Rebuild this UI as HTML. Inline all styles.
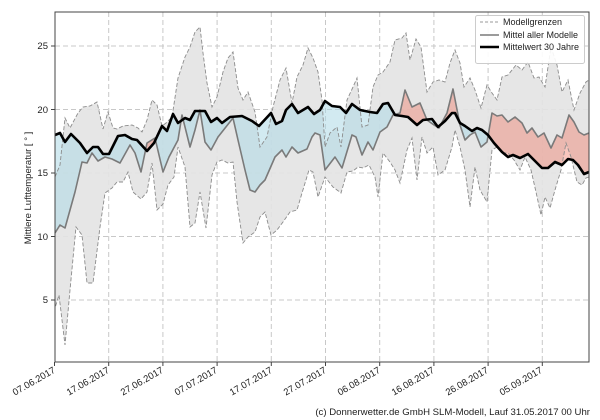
<!DOCTYPE html>
<html><head><meta charset="utf-8"><style>
html,body{margin:0;padding:0;background:#fff;}
svg{display:block;font-family:"Liberation Sans","DejaVu Sans",sans-serif;}
</style></head><body>
<svg width="600" height="420" viewBox="0 0 600 420" xmlns="http://www.w3.org/2000/svg">
<defs>
<clipPath id="below"><polygon points="55,135 60,133 65,142 71,134 80,143 87,153 93,147 98,147 103,154 109,154 118,136 125,135 132,139 137,140 147,151 154,143 162,126 167,131 173,114 178,123 185,118 190,120 195,111 205,111 211,122 217,118 222,123 230,117 242,116 252,121 259,126 271,113 276,124 282,121 286,110 292,104 298,113 308,107 314,114 320,110 325,101 332,106 340,107 346,113 352,104 360,110 370,112 377,113 383,104 388,103 395,115 402,116 408,117 417,125 423,120 432,119 438,127 445,121 452,113 455,113 460,123 465,126 472,131 477,128 482,130 488,135 494,143 502,152 508,157 513,155 520,158 528,154 536,162 542,168 548,168 555,162 562,165 568,159 573,160 578,165 584,174 589,172 589,362 55,362"/></clipPath>
<clipPath id="above"><polygon points="55,135 60,133 65,142 71,134 80,143 87,153 93,147 98,147 103,154 109,154 118,136 125,135 132,139 137,140 147,151 154,143 162,126 167,131 173,114 178,123 185,118 190,120 195,111 205,111 211,122 217,118 222,123 230,117 242,116 252,121 259,126 271,113 276,124 282,121 286,110 292,104 298,113 308,107 314,114 320,110 325,101 332,106 340,107 346,113 352,104 360,110 370,112 377,113 383,104 388,103 395,115 402,116 408,117 417,125 423,120 432,119 438,127 445,121 452,113 455,113 460,123 465,126 472,131 477,128 482,130 488,135 494,143 502,152 508,157 513,155 520,158 528,154 536,162 542,168 548,168 555,162 562,165 568,159 573,160 578,165 584,174 589,172 589,12 55,12"/></clipPath>
</defs>
<rect x="55" y="12" width="534" height="350" fill="#fff"/>
<g stroke="#c8c8c8" stroke-width="1" stroke-dasharray="5,3">
<line x1="55" x2="589" y1="300" y2="300"/><line x1="55" x2="589" y1="236.5" y2="236.5"/><line x1="55" x2="589" y1="173" y2="173"/><line x1="55" x2="589" y1="109.5" y2="109.5"/><line x1="55" x2="589" y1="46" y2="46"/>
<line x1="108.7" x2="108.7" y1="12" y2="362"/><line x1="162.9" x2="162.9" y1="12" y2="362"/><line x1="217.1" x2="217.1" y1="12" y2="362"/><line x1="271.3" x2="271.3" y1="12" y2="362"/><line x1="325.5" x2="325.5" y1="12" y2="362"/><line x1="379.7" x2="379.7" y1="12" y2="362"/><line x1="433.9" x2="433.9" y1="12" y2="362"/><line x1="488.1" x2="488.1" y1="12" y2="362"/><line x1="542.3" x2="542.3" y1="12" y2="362"/>
</g>
<polygon fill="#e3e3e3" fill-opacity="0.9" stroke="none" points="55,177 60,165 65,118 70,128 78,113 83,107 90,106 97,102 103,129 108,112 113,128 117,129 123,126 132,125 138,128 142,132 147,120 152,100 157,105 162,126 166,123 172,117 178,78 185,57 190,47 195,32 200,27 203,53 207,83 212,107 217,97 223,72 228,58 233,52 238,88 243,100 248,92 255,112 260,147 267,137 273,107 280,80 286,68 292,103 297,77 303,65 308,48 313,58 318,72 322,100 325,147 330,133 337,127 341,147 347,100 353,87 357,78 362,127 368,125 373,87 378,75 383,72 390,62 395,40 402,38 406,33 410,60 416,39 421,47 427,92 433,82 439,80 445,82 450,63 455,50 460,63 464,87 470,78 475,90 481,108 487,85 492,93 497,100 502,77 508,75 516,65 522,70 528,62 534,78 539,77 545,87 551,47 557,65 562,92 568,80 574,110 580,93 586,82 589,80 589,177 586,178 582,185 577,182 571,157 566,143 561,170 555,190 550,208 545,197 541,215 536,192 531,170 525,157 520,170 514,160 508,153 502,153 497,147 492,150 487,202 480,190 475,167 470,207 465,170 460,147 455,130 452,147 445,170 438,175 433,147 427,153 422,137 417,180 412,138 407,150 400,183 395,170 390,162 383,153 378,197 375,177 369,165 363,168 358,167 353,171 347,172 341,193 333,187 325,177 318,197 313,172 309,170 302,193 297,210 290,212 283,222 277,230 271,235 265,212 260,217 255,232 248,237 243,243 237,202 233,162 228,163 222,160 217,162 212,175 206,228 200,192 195,223 190,227 185,167 178,147 174,177 168,185 163,204 157,210 152,163 147,192 141,199 133,192 128,172 123,182 117,182 112,188 105,193 100,227 93,283 87,283 82,235 76,227 70,290 65,345 59,295 55,308"/>
<g>
<polygon clip-path="url(#below)" fill="rgb(173,216,230)" fill-opacity="0.55" points="55,233 60,225 65,228 75,192 82,162 87,163 92,153 98,161 105,157 112,159 120,163 130,145 135,153 141,172 147,143 155,138 163,172 169,157 178,140 182,115 190,147 195,130 200,110 205,142 211,150 218,137 233,118 238,140 245,170 250,190 255,192 260,185 265,180 275,157 282,150 286,157 292,147 298,153 307,149 312,137 315,133 320,135 325,170 335,157 342,168 352,135 356,137 362,155 368,142 373,150 380,132 387,127 393,115 400,113 405,90 412,107 420,103 427,120 434,125 439,128 447,113 453,89 460,125 465,140 470,135 475,132 481,147 487,142 492,113 497,116 502,115 508,122 515,117 522,123 527,133 532,128 538,137 544,133 551,148 557,135 562,138 569,115 574,122 579,132 584,135 589,133 589,172 584,174 578,165 573,160 568,159 562,165 555,162 548,168 542,168 536,162 528,154 520,158 513,155 508,157 502,152 494,143 488,135 482,130 477,128 472,131 465,126 460,123 455,113 452,113 445,121 438,127 432,119 423,120 417,125 408,117 402,116 395,115 388,103 383,104 377,113 370,112 360,110 352,104 346,113 340,107 332,106 325,101 320,110 314,114 308,107 298,113 292,104 286,110 282,121 276,124 271,113 259,126 252,121 242,116 230,117 222,123 217,118 211,122 205,111 195,111 190,120 185,118 178,123 173,114 167,131 162,126 154,143 147,151 137,140 132,139 125,135 118,136 109,154 103,154 98,147 93,147 87,153 80,143 71,134 65,142 60,133 55,135"/>
<polygon clip-path="url(#above)" fill="rgb(240,128,110)" fill-opacity="0.45" points="55,233 60,225 65,228 75,192 82,162 87,163 92,153 98,161 105,157 112,159 120,163 130,145 135,153 141,172 147,143 155,138 163,172 169,157 178,140 182,115 190,147 195,130 200,110 205,142 211,150 218,137 233,118 238,140 245,170 250,190 255,192 260,185 265,180 275,157 282,150 286,157 292,147 298,153 307,149 312,137 315,133 320,135 325,170 335,157 342,168 352,135 356,137 362,155 368,142 373,150 380,132 387,127 393,115 400,113 405,90 412,107 420,103 427,120 434,125 439,128 447,113 453,89 460,125 465,140 470,135 475,132 481,147 487,142 492,113 497,116 502,115 508,122 515,117 522,123 527,133 532,128 538,137 544,133 551,148 557,135 562,138 569,115 574,122 579,132 584,135 589,133 589,172 584,174 578,165 573,160 568,159 562,165 555,162 548,168 542,168 536,162 528,154 520,158 513,155 508,157 502,152 494,143 488,135 482,130 477,128 472,131 465,126 460,123 455,113 452,113 445,121 438,127 432,119 423,120 417,125 408,117 402,116 395,115 388,103 383,104 377,113 370,112 360,110 352,104 346,113 340,107 332,106 325,101 320,110 314,114 308,107 298,113 292,104 286,110 282,121 276,124 271,113 259,126 252,121 242,116 230,117 222,123 217,118 211,122 205,111 195,111 190,120 185,118 178,123 173,114 167,131 162,126 154,143 147,151 137,140 132,139 125,135 118,136 109,154 103,154 98,147 93,147 87,153 80,143 71,134 65,142 60,133 55,135"/>
</g>
<g fill="none" stroke="#8c8c8c" stroke-width="0.9" stroke-dasharray="4,2">
<polyline points="55,177 60,165 65,118 70,128 78,113 83,107 90,106 97,102 103,129 108,112 113,128 117,129 123,126 132,125 138,128 142,132 147,120 152,100 157,105 162,126 166,123 172,117 178,78 185,57 190,47 195,32 200,27 203,53 207,83 212,107 217,97 223,72 228,58 233,52 238,88 243,100 248,92 255,112 260,147 267,137 273,107 280,80 286,68 292,103 297,77 303,65 308,48 313,58 318,72 322,100 325,147 330,133 337,127 341,147 347,100 353,87 357,78 362,127 368,125 373,87 378,75 383,72 390,62 395,40 402,38 406,33 410,60 416,39 421,47 427,92 433,82 439,80 445,82 450,63 455,50 460,63 464,87 470,78 475,90 481,108 487,85 492,93 497,100 502,77 508,75 516,65 522,70 528,62 534,78 539,77 545,87 551,47 557,65 562,92 568,80 574,110 580,93 586,82 589,80"/>
<polyline points="589,177 586,178 582,185 577,182 571,157 566,143 561,170 555,190 550,208 545,197 541,215 536,192 531,170 525,157 520,170 514,160 508,153 502,153 497,147 492,150 487,202 480,190 475,167 470,207 465,170 460,147 455,130 452,147 445,170 438,175 433,147 427,153 422,137 417,180 412,138 407,150 400,183 395,170 390,162 383,153 378,197 375,177 369,165 363,168 358,167 353,171 347,172 341,193 333,187 325,177 318,197 313,172 309,170 302,193 297,210 290,212 283,222 277,230 271,235 265,212 260,217 255,232 248,237 243,243 237,202 233,162 228,163 222,160 217,162 212,175 206,228 200,192 195,223 190,227 185,167 178,147 174,177 168,185 163,204 157,210 152,163 147,192 141,199 133,192 128,172 123,182 117,182 112,188 105,193 100,227 93,283 87,283 82,235 76,227 70,290 65,345 59,295 55,308"/>
</g>
<polyline fill="none" stroke="#7a7a7a" stroke-width="1.6" stroke-linejoin="round" points="55,233 60,225 65,228 75,192 82,162 87,163 92,153 98,161 105,157 112,159 120,163 130,145 135,153 141,172 147,143 155,138 163,172 169,157 178,140 182,115 190,147 195,130 200,110 205,142 211,150 218,137 233,118 238,140 245,170 250,190 255,192 260,185 265,180 275,157 282,150 286,157 292,147 298,153 307,149 312,137 315,133 320,135 325,170 335,157 342,168 352,135 356,137 362,155 368,142 373,150 380,132 387,127 393,115 400,113 405,90 412,107 420,103 427,120 434,125 439,128 447,113 453,89 460,125 465,140 470,135 475,132 481,147 487,142 492,113 497,116 502,115 508,122 515,117 522,123 527,133 532,128 538,137 544,133 551,148 557,135 562,138 569,115 574,122 579,132 584,135 589,133"/>
<polyline fill="none" stroke="#000" stroke-width="2.6" stroke-linejoin="round" points="55,135 60,133 65,142 71,134 80,143 87,153 93,147 98,147 103,154 109,154 118,136 125,135 132,139 137,140 147,151 154,143 162,126 167,131 173,114 178,123 185,118 190,120 195,111 205,111 211,122 217,118 222,123 230,117 242,116 252,121 259,126 271,113 276,124 282,121 286,110 292,104 298,113 308,107 314,114 320,110 325,101 332,106 340,107 346,113 352,104 360,110 370,112 377,113 383,104 388,103 395,115 402,116 408,117 417,125 423,120 432,119 438,127 445,121 452,113 455,113 460,123 465,126 472,131 477,128 482,130 488,135 494,143 502,152 508,157 513,155 520,158 528,154 536,162 542,168 548,168 555,162 562,165 568,159 573,160 578,165 584,174 589,172"/>
<rect x="55" y="12" width="534" height="350" fill="none" stroke="#444" stroke-width="1"/>
<g stroke="#444" stroke-width="1">
<line x1="51" x2="55" y1="300" y2="300"/><line x1="51" x2="55" y1="236.5" y2="236.5"/><line x1="51" x2="55" y1="173" y2="173"/><line x1="51" x2="55" y1="109.5" y2="109.5"/><line x1="51" x2="55" y1="46" y2="46"/>
<line x1="54.5" x2="54.5" y1="362" y2="366"/><line x1="108.7" x2="108.7" y1="362" y2="366"/><line x1="162.9" x2="162.9" y1="362" y2="366"/><line x1="217.1" x2="217.1" y1="362" y2="366"/><line x1="271.3" x2="271.3" y1="362" y2="366"/><line x1="325.5" x2="325.5" y1="362" y2="366"/><line x1="379.7" x2="379.7" y1="362" y2="366"/><line x1="433.9" x2="433.9" y1="362" y2="366"/><line x1="488.1" x2="488.1" y1="362" y2="366"/><line x1="542.3" x2="542.3" y1="362" y2="366"/>
</g>
<g font-size="9.5" fill="#222" text-anchor="end">
<text x="48" y="303">5</text><text x="48" y="240">10</text><text x="48" y="176">15</text><text x="48" y="113">20</text><text x="48" y="49">25</text>
</g>
<text transform="translate(31,188) rotate(-90)" font-size="9.5" fill="#222" text-anchor="middle">Mittlere Lufttemperatur [ ° ]</text>
<g font-size="9.5" fill="#222" text-anchor="end">
<text transform="translate(56,372) rotate(-30)">07.06.2017</text>
<text transform="translate(110,372) rotate(-30)">17.06.2017</text>
<text transform="translate(164,372) rotate(-30)">27.06.2017</text>
<text transform="translate(218,372) rotate(-30)">07.07.2017</text>
<text transform="translate(273,372) rotate(-30)">17.07.2017</text>
<text transform="translate(327,372) rotate(-30)">27.07.2017</text>
<text transform="translate(381,372) rotate(-30)">06.08.2017</text>
<text transform="translate(435,372) rotate(-30)">16.08.2017</text>
<text transform="translate(489,372) rotate(-30)">26.08.2017</text>
<text transform="translate(543,372) rotate(-30)">05.09.2017</text>
</g>
<text x="590" y="415" font-size="9.6" fill="#222" text-anchor="end">(c) Donnerwetter.de GmbH SLM-Modell, Lauf 31.05.2017 00 Uhr</text>
<rect x="475.5" y="15.5" width="109" height="48" rx="2" fill="#fff" fill-opacity="0.9" stroke="#ccc" stroke-width="1"/>
<line x1="480" x2="499" y1="22" y2="22" stroke="#999" stroke-width="1" stroke-dasharray="3,2"/>
<line x1="480" x2="499" y1="35" y2="35" stroke="#7a7a7a" stroke-width="1.6"/>
<line x1="480" x2="499" y1="47" y2="47" stroke="#000" stroke-width="2.6"/>
<g font-size="9" fill="#222">
<text x="503" y="25">Modellgrenzen</text>
<text x="503" y="38">Mittel aller Modelle</text>
<text x="503" y="50">Mittelwert 30 Jahre</text>
</g>
</svg>
</body></html>
